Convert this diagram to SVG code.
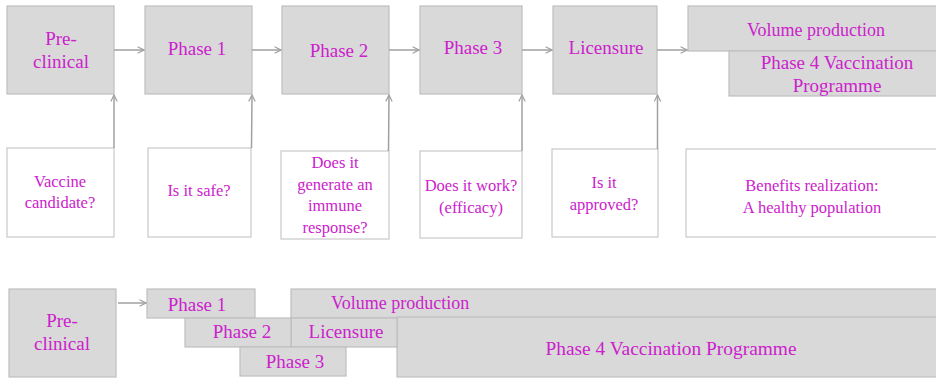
<svg xmlns="http://www.w3.org/2000/svg" width="936" height="378" viewBox="0 0 936 378">
<defs>
<style>
.box{fill:#d9d9d9;stroke:#bfbfbf;stroke-width:1.2}
.q{fill:#ffffff;stroke:#c8c8c8;stroke-width:1.2}
text{font-family:"Liberation Serif","Times New Roman",serif;fill:#cc22cc;text-anchor:middle}
.t19{font-size:19px}
.t18{font-size:18px}
.t17{font-size:16.5px}
.c{stroke:#a0a0a0;stroke-width:1.5;fill:none;marker-end:url(#ah)}
</style>
<marker id="ah" viewBox="0 0 10 10" refX="9" refY="5" markerWidth="8" markerHeight="8" markerUnits="userSpaceOnUse" orient="auto">
<path d="M1,1 L9,5 L1,9" fill="none" stroke="#a0a0a0" stroke-width="1.5"/>
</marker>
</defs>
<rect width="936" height="378" fill="#ffffff"/>

<g id="top-preclinical"><rect class="box" x="7" y="6" width="107" height="88"/><text class="t19" x="61" y="45">Pre-</text><text class="t19" x="61" y="68">clinical</text></g>
<g id="top-phase1"><rect class="box" x="145" y="6" width="107" height="88"/><text class="t19" x="197" y="55">Phase 1</text></g>
<g id="top-phase2"><rect class="box" x="282" y="6" width="107" height="88"/><text class="t19" x="339" y="57">Phase 2</text></g>
<g id="top-phase3"><rect class="box" x="420" y="6" width="102" height="88"/><text class="t19" x="473" y="54">Phase 3</text></g>
<g id="top-licensure"><rect class="box" x="553" y="6" width="104" height="88"/><text class="t19" x="606" y="54">Licensure</text></g>
<g id="top-volume"><rect class="box" x="688" y="6" width="250" height="45"/><text class="t18" x="816" y="36">Volume production</text></g>
<g id="top-phase4"><rect class="box" x="729" y="51" width="209" height="45"/><text class="t19" x="837" y="69">Phase 4 Vaccination</text><text class="t19" x="837" y="92">Programme</text></g>

<g id="q-candidate"><rect class="q" x="7" y="148" width="107" height="89"/><text class="t17" x="60" y="187">Vaccine</text><text class="t17" x="60" y="208">candidate?</text></g>
<g id="q-safe"><rect class="q" x="148" y="148" width="103" height="89"/><text class="t17" x="199" y="196">Is it safe?</text></g>
<g id="q-immune"><rect class="q" x="281" y="151" width="108" height="88"/><text class="t17" x="335" y="168">Does it</text><text class="t17" x="335" y="189.5">generate an</text><text class="t17" x="335" y="211">immune</text><text class="t17" x="335" y="232.5">response?</text></g>
<g id="q-work"><rect class="q" x="420" y="151" width="102" height="87"/><text class="t17" x="471" y="191">Does it work?</text><text class="t17" x="471" y="213">(efficacy)</text></g>
<g id="q-approved"><rect class="q" x="552" y="149" width="106" height="88"/><text class="t17" x="604" y="188">Is it</text><text class="t17" x="604" y="210">approved?</text></g>
<g id="q-benefits"><rect class="q" x="686" y="149" width="252" height="88"/><text class="t17" x="812" y="191">Benefits realization:</text><text class="t17" x="812" y="213">A healthy population</text></g>

<g id="b-preclinical"><rect class="box" x="9" y="289" width="107" height="88"/><text class="t19" x="62" y="327">Pre-</text><text class="t19" x="62" y="350">clinical</text></g>
<g id="b-volume"><rect class="box" x="291" y="289" width="647" height="29"/><text class="t18" x="331" y="309" style="text-anchor:start">Volume production</text></g>
<g id="b-phase4"><rect class="box" x="397" y="317" width="541" height="60"/><text class="t19" x="671" y="355" style="font-size:19.4px">Phase 4 Vaccination Programme</text></g>
<g id="b-licensure"><rect class="box" x="291" y="318" width="106" height="29"/><text class="t19" x="346" y="338">Licensure</text></g>
<g id="b-phase1"><rect class="box" x="147" y="289" width="108" height="29"/><text class="t19" x="197" y="311">Phase 1</text></g>
<g id="b-phase2"><rect class="box" x="185" y="318" width="106" height="29"/><text class="t19" x="242" y="338">Phase 2</text></g>
<g id="b-phase3"><rect class="box" x="240" y="347" width="106" height="29"/><text class="t19" x="295" y="368">Phase 3</text></g>

<g id="connectors">
<line class="c" x1="114" y1="50" x2="144" y2="50"/>
<line class="c" x1="252" y1="50" x2="281" y2="50"/>
<line class="c" x1="389" y1="50" x2="419" y2="50"/>
<line class="c" x1="522" y1="50" x2="552" y2="50"/>
<line class="c" x1="657" y1="50" x2="687" y2="50"/>
<line class="c" x1="114" y1="148" x2="114" y2="95"/>
<line class="c" x1="251.5" y1="148" x2="252" y2="95"/>
<line class="c" x1="388.5" y1="151" x2="389" y2="95"/>
<line class="c" x1="522" y1="151" x2="522" y2="95"/>
<line class="c" x1="657.5" y1="149" x2="657.5" y2="95"/>
<line class="c" x1="118" y1="303" x2="146" y2="303"/>
</g>
</svg>
